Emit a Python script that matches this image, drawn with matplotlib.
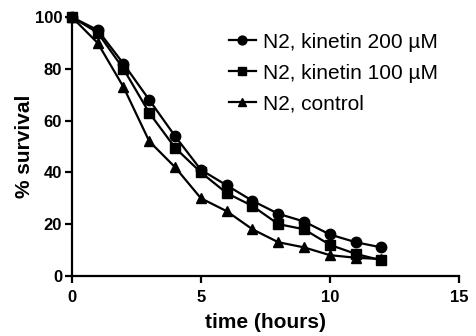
import matplotlib

matplotlib.use("Agg")
import matplotlib.pyplot as plt

plt.rcParams["font.family"] = ["Liberation Sans", "DejaVu Sans"]

hours = [0, 1, 2, 3, 4, 5, 6, 7, 8, 9, 10, 11, 12]
kinetin_200 = [100, 95, 82, 68, 54, 41, 35, 29, 24, 21, 16, 13, 11]
kinetin_100 = [100, 94, 80, 63, 49.5, 40, 32, 27, 20, 18, 12, 8.5, 6]
control = [100, 90, 73, 52, 42, 30, 25, 18, 13, 11, 8, 7, 6.5]

fig = plt.figure(figsize=(4.76, 3.36), dpi=100)
ax = fig.add_axes([0.151, 0.179, 0.813, 0.77])

style = dict(color="black", lw=1.6, markersize=7.5, clip_on=False)
ax.plot(hours, kinetin_200, marker="o", label="N2, kinetin 200 µM", **style)
ax.plot(hours, kinetin_100, marker="s", label="N2, kinetin 100 µM", **style)
ax.plot(hours, control, marker="^", label="N2, control", **style)

ax.set_xlim(0, 15)
ax.set_ylim(0, 100)
ax.set_xticks([0, 5, 10, 15])
ax.set_yticks([0, 20, 40, 60, 80, 100])
for s in ("top", "right"):
    ax.spines[s].set_visible(False)
for s in ("left", "bottom"):
    ax.spines[s].set_linewidth(1.6)
ax.tick_params(width=1.6, length=5, labelsize=12, pad=2)
ax.tick_params(axis="x", pad=5)
for lab in ax.get_xticklabels() + ax.get_yticklabels():
    lab.set_fontweight("bold")
ax.set_xlabel("time (hours)", fontsize=15, fontweight="bold", labelpad=6)
ax.set_ylabel("% survival", fontsize=15, fontweight="bold", labelpad=0.5)

ax.legend(loc="upper left", bbox_to_anchor=(0.405, 0.94), frameon=False, fontsize=15,
          borderpad=0, borderaxespad=0, handlelength=1.3, handletextpad=0.35,
          labelspacing=0.57, markerscale=0.85)

fig.savefig("out.png", dpi=100)
